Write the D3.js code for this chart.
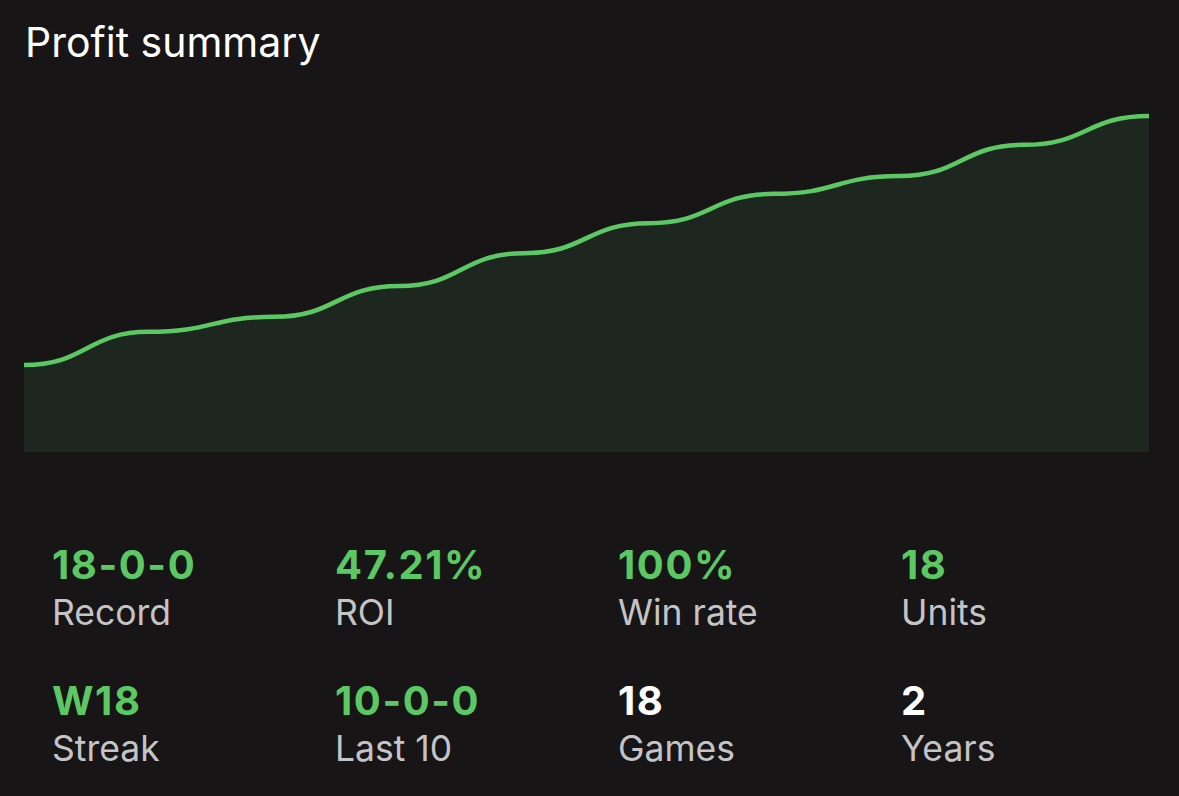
<!DOCTYPE html>
<html>
<head>
<meta charset="utf-8">
<script src="https://cdn.jsdelivr.net/npm/d3@7"></script>
<style>
  html, body { margin: 0; padding: 0; background: #171516; }
  svg { display: block; font-family: Inter, "Noto Sans", sans-serif; }
</style>
</head>
<body>
<div id="chart"></div>
<script>
// Cumulative profit (units) sampled along the run
const checkpoints = [0, 1, 2, 3, 4, 5, 6, 7, 8, 9];
const profit = [2.20, 3.04, 3.42, 4.20, 5.03, 5.79, 6.53, 6.98, 7.77, 8.50];

// Summary stats
const statLabels = ["Record", "ROI", "Win rate", "Units", "Streak", "Last 10", "Games", "Years"];
const statValues = ["18-0-0", "47.21%", "100%", "18", "W18", "10-0-0", "18", "2"];
const statPositive = [true, true, true, true, true, true, false, false];

const W = 1179, H = 796;
const green = "#5cc863";

const svg = d3.select("#chart").append("svg")
    .attr("width", W)
    .attr("height", H);

svg.append("rect").attr("width", W).attr("height", H).attr("fill", "#171516");

// Title
svg.append("text")
    .attr("x", 25)
    .attr("y", 57)
    .attr("fill", "#ffffff")
    .attr("font-size", 41)
    .attr("font-weight", 400)
    .text("Profit summary");

// Scales
const x = d3.scaleLinear()
    .domain(d3.extent(checkpoints))
    .range([24, 1149]);

const y = d3.scaleLinear()
    .domain([0, d3.max(profit)])
    .range([452, 116]);

const pts = checkpoints.map((c, i) => ({c, v: profit[i]}));

// Area under the line
const area = d3.area()
    .x(d => x(d.c))
    .y0(y(0))
    .y1(d => y(d.v))
    .curve(d3.curveBumpX);

svg.append("path")
    .datum(pts)
    .attr("fill", "#1d261f")
    .attr("d", area);

// Profit line
const line = d3.line()
    .x(d => x(d.c))
    .y(d => y(d.v))
    .curve(d3.curveBumpX);

svg.append("path")
    .datum(pts)
    .attr("fill", "none")
    .attr("stroke", green)
    .attr("stroke-width", 4.5)
    .attr("d", line);

// Stats grid: 4 columns, 2 rows
const col = d3.scaleLinear().domain([0, 1]).range([52, 335]);
const rowY = d3.scaleLinear().domain([0, 1]).range([579, 715]);

const stats = svg.selectAll("g.stat")
    .data(statLabels.map((l, i) => ({label: l, value: statValues[i], pos: statPositive[i], i})))
    .join("g")
    .attr("class", "stat")
    .attr("transform", d => `translate(${col(d.i % 4)},${rowY(Math.floor(d.i / 4))})`);

stats.append("text")
    .attr("fill", d => d.pos ? green : "#ffffff")
    .attr("font-size", 40)
    .attr("font-weight", 700)
    .attr("letter-spacing", 1.6)
    .text(d => d.value);

stats.append("text")
    .attr("y", 46)
    .attr("fill", "#c4c4c6")
    .attr("font-size", 35.5)
    .attr("font-weight", 400)
    .text(d => d.label);
</script>
</body>
</html>
